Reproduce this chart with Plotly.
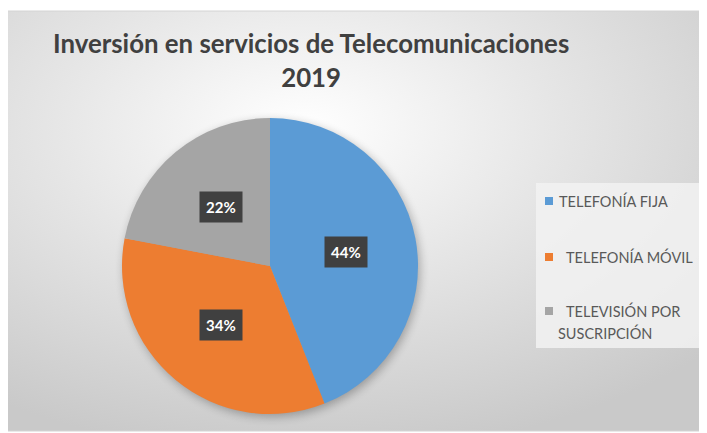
import base64
import math
import textwrap
import plotly.graph_objects as go

# ---- data ----
categories = ["TELEFONÍA FIJA", "TELEFONÍA MÓVIL", "TELEVISIÓN POR SUSCRIPCIÓN"]
values = [44, 34, 22]
colors = ["#5B9BD5", "#ED7D31", "#A5A5A5"]
title_text = "Inversión en servicios de Telecomunicaciones<br>2019"

# ---- layout constants (page pixels; page body has an 8px margin) ----
W, H = 707, 433
OFF = 8
FONT = "Lato, 'Open Sans', sans-serif"


def px_x(x):
    return (x - OFF) / W


def px_y(y):
    return 1 - (y - OFF) / H


box_x0, box_y0, box_x1, box_y1 = 6, 11, 715, 431
pie_cx, pie_cy, pie_r = 270, 266, 148
dom_x = [px_x(pie_cx - pie_r), px_x(pie_cx + pie_r)]
dom_y = [px_y(pie_cy + pie_r), px_y(pie_cy - pie_r)]

# background gradient + pie shadow as an SVG image
bw, bh = box_x1 - box_x0, box_y1 - box_y0
svg = f'''<svg xmlns="http://www.w3.org/2000/svg" width="{bw}" height="{bh}" viewBox="0 0 {bw} {bh}">
<defs>
<radialGradient id="g" cx="0.42" cy="0.28" r="0.78">
<stop offset="0" stop-color="#ffffff"/>
<stop offset="0.45" stop-color="#e6e6e6"/>
<stop offset="1" stop-color="#c9c9c9"/>
</radialGradient>
<filter id="b" x="-20%" y="-20%" width="140%" height="140%"><feGaussianBlur stdDeviation="5"/></filter>
</defs>
<rect width="{bw}" height="{bh}" fill="url(#g)"/>
<circle cx="{pie_cx - box_x0 + 2}" cy="{pie_cy - box_y0 + 3}" r="{pie_r}" fill="#000" opacity="0.28" filter="url(#b)"/>
</svg>'''
bg_src = "data:image/svg+xml;base64," + base64.b64encode(svg.encode("utf-8")).decode()

fig = go.Figure()
fig.add_trace(go.Pie(
    labels=categories,
    values=values,
    marker=dict(colors=colors, line=dict(width=0)),
    sort=False,
    direction="clockwise",
    rotation=0,
    textinfo="none",
    hoverinfo="label+percent",
    domain=dict(x=dom_x, y=dom_y),
    showlegend=False,
))

annotations = []
shapes = []

# title
annotations.append(dict(
    x=px_x(311), y=px_y(60), xref="paper", yref="paper",
    text=f"<b>{title_text}</b>", showarrow=False,
    xanchor="center", yanchor="middle", align="center",
    font=dict(family=FONT, size=25.8, color="#404040"),
))

# data labels in dark boxes, placed along each slice's bisector
total = sum(values)
cum = 0
for v in values:
    mid = (cum + v / 2) / total
    cum += v
    th = 2 * math.pi * mid
    lx = pie_cx + 0.52 * pie_r * math.sin(th)
    ly = pie_cy - 0.52 * pie_r * math.cos(th)
    annotations.append(dict(
        x=px_x(lx), y=px_y(ly), xref="paper", yref="paper",
        text=f"<b>{round(v / total * 100)}%</b>", showarrow=False,
        font=dict(family=FONT, size=15, color="#ffffff"),
        bgcolor="#404040", borderpad=6,
        xanchor="center", yanchor="middle",
    ))

# legend box
leg_x0, leg_y0, leg_x1, leg_y1 = 536, 183, 702, 348
shapes.append(dict(type="rect", xref="paper", yref="paper",
                   x0=px_x(leg_x0), x1=px_x(leg_x1), y0=px_y(leg_y1), y1=px_y(leg_y0),
                   fillcolor="rgba(242,242,242,0.85)", line=dict(width=0), layer="below"))
item_y = [201, 257, 311]
for i, cat in enumerate(categories):
    y = item_y[i]
    shapes.append(dict(type="rect", xref="paper", yref="paper",
                       x0=px_x(545), x1=px_x(553), y0=px_y(y + 4), y1=px_y(y - 4),
                       fillcolor=colors[i], line=dict(width=0)))
    lines = textwrap.wrap(cat, 15)
    for j, ln in enumerate(lines):
        tx = (557 if i == 0 else 564) if j == 0 else 556
        annotations.append(dict(
            x=px_x(tx), y=px_y(y + 22 * j), xref="paper", yref="paper",
            text=ln, showarrow=False, xanchor="left", yanchor="middle",
            font=dict(family=FONT, size=14.5, color="#595959"),
        ))

# outer frame
shapes.append(dict(type="rect", xref="paper", yref="paper",
                   x0=px_x(box_x0), x1=px_x(box_x1), y0=px_y(box_y1), y1=px_y(box_y0),
                   fillcolor="rgba(0,0,0,0)", line=dict(color="#d4d4d4", width=1), layer="below"))

fig.update_layout(
    width=W, height=H, autosize=False,
    margin=dict(l=0, r=0, t=0, b=0),
    paper_bgcolor="#ffffff",
    plot_bgcolor="rgba(0,0,0,0)",
    images=[dict(source=bg_src, xref="paper", yref="paper",
                 x=px_x(box_x0), y=px_y(box_y0), sizex=bw / W, sizey=bh / H,
                 xanchor="left", yanchor="top", sizing="stretch", layer="below")],
    shapes=shapes,
    annotations=annotations,
    showlegend=False,
)

fig.write_html("out.html")
